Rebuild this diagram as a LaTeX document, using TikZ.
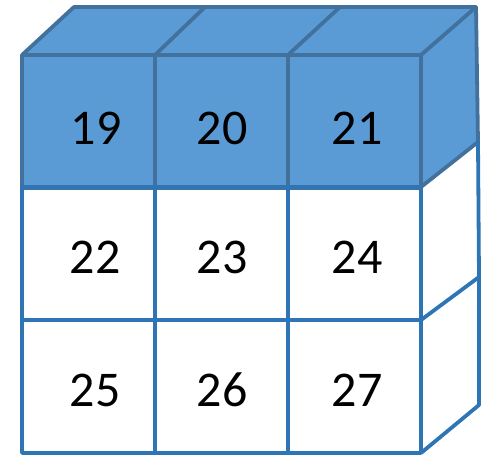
\documentclass[tikz,border=0pt]{standalone}
\usepackage{fontspec}
\setmainfont{Carlito}
\definecolor{fillblue}{HTML}{5B9BD5}
\definecolor{edgeblue}{HTML}{2E75B6}
\definecolor{darkedge}{HTML}{41719C}
\begin{document}
\begin{tikzpicture}[x=1pt,y=-1pt,
  edge/.style={draw=edgeblue,line width=3.8pt,line join=round},
  topedge/.style={draw=darkedge,line width=3.8pt,line join=round},
  num/.style={font=\fontsize{50}{54}\selectfont,inner sep=0pt}]
\useasboundingbox (0,0) rectangle (490,456);
% coordinates
\coordinate (f00) at (22,55);  \coordinate (f30) at (421,55);
\coordinate (b00) at (74,7);   \coordinate (b30) at (476,7);
\coordinate (f10) at (155,55); \coordinate (b10) at (205,7);
\coordinate (f20) at (288,55); \coordinate (b20) at (340,7);
\coordinate (f31) at (421,187); \coordinate (b31) at (478,142);
\coordinate (f32) at (421,320); \coordinate (b32) at (479,277);
\coordinate (f33) at (421,453); \coordinate (b33) at (479,405);
% top face and top-right side
\fill[fillblue] (f00) -- (b00) -- (b30) -- (b31) -- (f31) -- (f30) -- cycle;
\draw[topedge] (f00) -- (b00) -- (b30) -- (f30);
\draw[topedge] (f10) -- (b10);
\draw[topedge] (f20) -- (b20);
\draw[topedge] (b30) -- (b31) -- (f31);
% right side lower part
\draw[edge] (b31) -- (b32) -- (b33) -- (f33);
\draw[edge] (f32) -- (b32);
% front cells
\foreach \c [count=\i from 0] in {22,155,288}{
  \foreach \r [count=\j from 0] in {55,187,320}{
    \pgfmathsetmacro{\xe}{\c+133}
    \pgfmathsetmacro{\ye}{\r+133}
    \ifnum\j=0
      \filldraw[topedge,fill=fillblue] (\c,\r) rectangle (\xe,\ye);
    \else
      \draw[edge] (\c,\r) rectangle (\xe,\ye);
    \fi
  }
}
\draw[topedge] (f30) -- (f31);
% numbers
\node[num] (n19) at (96,128) {19};
\node[num] (n20) at (222,128) {20};
\node[num] (n21) at (357,128) {21};
\node[num] (n22) at (95,257) {22};
\node[num] (n23) at (222,257) {23};
\node[num] (n24) at (357,257) {24};
\node[num] (n25) at (95,390) {25};
\node[num] (n26) at (222,390) {26};
\node[num] (n27) at (357,390) {27};
\end{tikzpicture}
\end{document}
